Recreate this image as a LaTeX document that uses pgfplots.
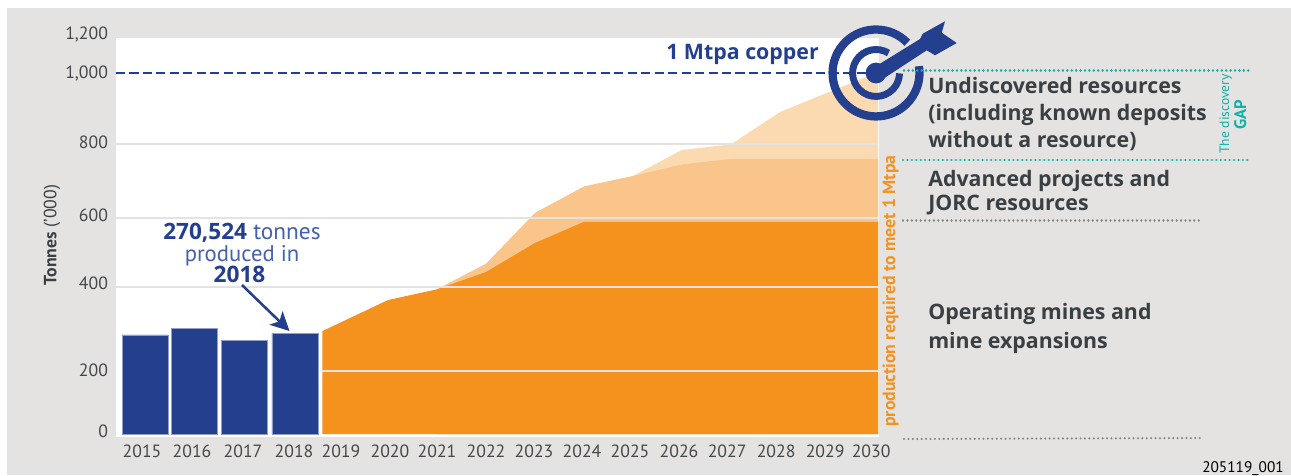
\documentclass[border=0pt]{standalone}
\usepackage{pgfplots}
\pgfplotsset{compat=1.18}
\usepackage{fontspec}
\setmainfont{PT Sans}
\newfontfamily\osb{Open Sans}
\usetikzlibrary{arrows.meta}
\definecolor{bg}{HTML}{E4E3E1}
\definecolor{blue1}{HTML}{243F8E}
\definecolor{blue2}{HTML}{4561AC}
\definecolor{or1}{HTML}{F5921E}
\definecolor{or2}{HTML}{F9C58A}
\definecolor{or3}{HTML}{FBDAB2}
\definecolor{gridc}{HTML}{E3E3E3}
\definecolor{txt}{HTML}{3A3F44}
\definecolor{tick}{HTML}{45474A}
\definecolor{teal1}{HTML}{12B0A8}
\definecolor{dotg}{HTML}{808285}
\newcommand{\RB}[2]{\raisebox{#1pt}{#2}}
\begin{document}
\begin{tikzpicture}[x=0.75pt,y=-0.75pt]
\fill[white] (0,0) rectangle (1291,475);
\fill[bg] (7,8) rectangle (1291,475);
\fill[white] (116,38) rectangle (879,437);
\begin{axis}[
  at={(87pt,-327.75pt)}, anchor=south west,
  x=36.75pt, y=0.75pt,
  axis line style={draw=none}, clip=false,
  axis x line*=bottom, axis y line*=left,
  y coord trafo/.code={\pgfmathparse{#1<200 ? #1*0.315 : (#1<400 ? 63+(#1-200)*0.42 : (#1<600 ? 147+(#1-400)*0.345 : (#1<800 ? 216+(#1-600)*0.37 : (#1<1000 ? 290+(#1-800)*0.355 : 361+(#1-1000)*0.19))))}},
  xmin=2014.449, xmax=2030.02, ymin=-9.52, ymax=1200,
  xtick={2014.98,2016,2017.041,2018.082,2019.04,2020.04,2021,2022,2022.98,2023.96,2024.94,2025.94,2026.92,2027.92,2028.92,2029.86},
  xticklabels={2015,2016,2017,2018,2019,2020,2021,2022,2023,2024,2025,2026,2027,2028,2029,2030},
  ytick={0,200,400,600,800,1000,1200},
  yticklabels={\RB{4.5}{0},\RB{1.5}{200},\RB{6}{400},\RB{4.5}{600},\RB{3}{800},\RB{1.5}{1,000},{1,200}},
  tick style={draw=none}, major tick length=0pt,
  tick label style={font=\fontsize{13.3}{14}\selectfont, text=tick},
  xticklabel style={yshift=-2pt},
  yticklabel style={xshift=-2.5pt},
  ylabel={\textbf{Tonnes} (’000)},
  ylabel style={at={(axis description cs:-0.0839,0.5025)}, anchor=center, font=\fontsize{13.3}{14}\selectfont, text=txt},
]
% light: undiscovered resources
\addplot[fill=or3, draw=none] coordinates {(2021,0) (2021,394.5) (2022,467) (2023,613.5) (2024,685) (2025,713.5) (2026,784) (2027,799) (2028,890) (2030,1005) (2030,0)};
% mid: advanced projects
\addplot[fill=or2, draw=none] coordinates {(2021,0) (2021,394.5) (2022,467) (2023,613.5) (2024,685) (2025,713.5) (2026,745) (2027,759.5) (2028,759.5) (2030,759.5) (2030,0)};
% base: operating mines
\addplot[fill=or1, draw=none] coordinates {(2018.66,0) (2018.66,295) (2020,369) (2021,394.5) (2022,443.5) (2023,527.6) (2024,589) (2025,589) (2030,589) (2030,0)};
% grid lines
\addplot[gridc, line width=1pt] coordinates {(2014.449,800) (2030,800)};
\addplot[gridc, line width=1pt] coordinates {(2014.449,600) (2030,600)};
\addplot[gridc, line width=1pt] coordinates {(2014.449,400) (2030,400)};
\addplot[gridc, line width=1pt] coordinates {(2018.66,200) (2030,200)};
% target line
\addplot[blue1, line width=1.9pt, dash pattern=on 6.8pt off 3.3pt] coordinates {(2014.449,1000) (2029.9,1000)};
% bars
\addplot[ybar, bar width=34.5pt, bar shift=0pt, fill=blue1, draw=blue1!50, line width=0.4pt] coordinates {(2015.041,286) (2016.051,302) (2017.071,273) (2018.102,289)};
\end{axis}
% annotations
\node[anchor=base east, inner sep=0pt, text=blue1, font=\osb\fontsize{16}{18}\bfseries\selectfont] at (819,59) {1 Mtpa copper};
\node[anchor=base, inner sep=0pt, text=blue2, font=\fontsize{17.5}{18}\selectfont] at (242,239) {{\osb\bfseries\fontsize{16.9}{18}\selectfont\textcolor{blue1}{270,524}} tonnes};
\node[anchor=base, inner sep=0pt, text=blue2, font=\fontsize{17}{18}\selectfont] at (242,261) {produced in};
\node[anchor=base, inner sep=0pt, text=blue1, font=\osb\fontsize{17}{18}\bfseries\selectfont] at (239.5,282) {2018};
\draw[blue1, line width=1.9pt, -{Stealth[length=14pt,width=14pt,inset=3.5pt]}] (242,285) -- (289.5,331);
% target icon
\begin{scope}[shift={(876,73)}, x=0.75pt, y=0.75pt]
  \draw[blue1, line width=6.2pt] (44:43.5) arc[start angle=44,end angle=369,radius=32.6pt];
  \draw[blue1, line width=5.2pt] (58:23.5) arc[start angle=58,end angle=359,radius=17.6pt];
  \fill[blue1] (0,0) circle[radius=7.8pt];
  \fill[blue1] (4,9.3) -- (44,34) -- (46.7,39.3) -- (69,51.7) -- (65.7,40.3) -- (80.7,30) -- (59,17.7) -- (50.7,22.7) -- (7.3,-5.7) -- cycle;
\end{scope}
% dotted rules
\draw[teal1, line width=2pt, dash pattern=on 0.01pt off 3.3pt, line cap=round] (904,70.5) -- (1250,70.5);
\draw[teal1, line width=2pt, dash pattern=on 0.01pt off 3.3pt, line cap=round] (903,160) -- (1250,160);
\draw[dotg, line width=1.7pt, dash pattern=on 0.01pt off 3.3pt, line cap=round] (903,220.5) -- (1200,220.5);
\draw[dotg, line width=1.7pt, dash pattern=on 0.01pt off 3.3pt, line cap=round] (904,439) -- (1200,438);
% right labels
\begin{scope}[every node/.style={anchor=base west, text=txt, inner sep=0pt, font=\osb\fontsize{16}{18}\bfseries\selectfont}]
\node at (928,93) {Undiscovered resources};
\node at (928,120) {(including known deposits};
\node at (928,147) {without a resource)};
\node at (928,186) {Advanced projects and};
\node at (928,210) {JORC resources};
\node at (928,319) {Operating mines and};
\node at (928,348) {mine expansions};
\end{scope}
\node[rotate=90, anchor=base west, inner sep=0pt, text=or1, font=\fontsize{13.3}{14}\bfseries\selectfont] at (895,427) {production required to meet 1 Mtpa};
\node[rotate=90, anchor=base west, inner sep=0pt, text=teal1, font=\fontsize{10.2}{12}\selectfont] at (1229,154) {The discovery};
\node[rotate=90, anchor=base west, inner sep=0pt, text=teal1, font=\fontsize{12.5}{12}\bfseries\selectfont] at (1246,130) {GAP};
\node[anchor=base east, inner sep=0pt, text=black, font=\fontsize{11.5}{12}\selectfont] at (1284,472) {205119\_001};
\end{tikzpicture}
\end{document}
